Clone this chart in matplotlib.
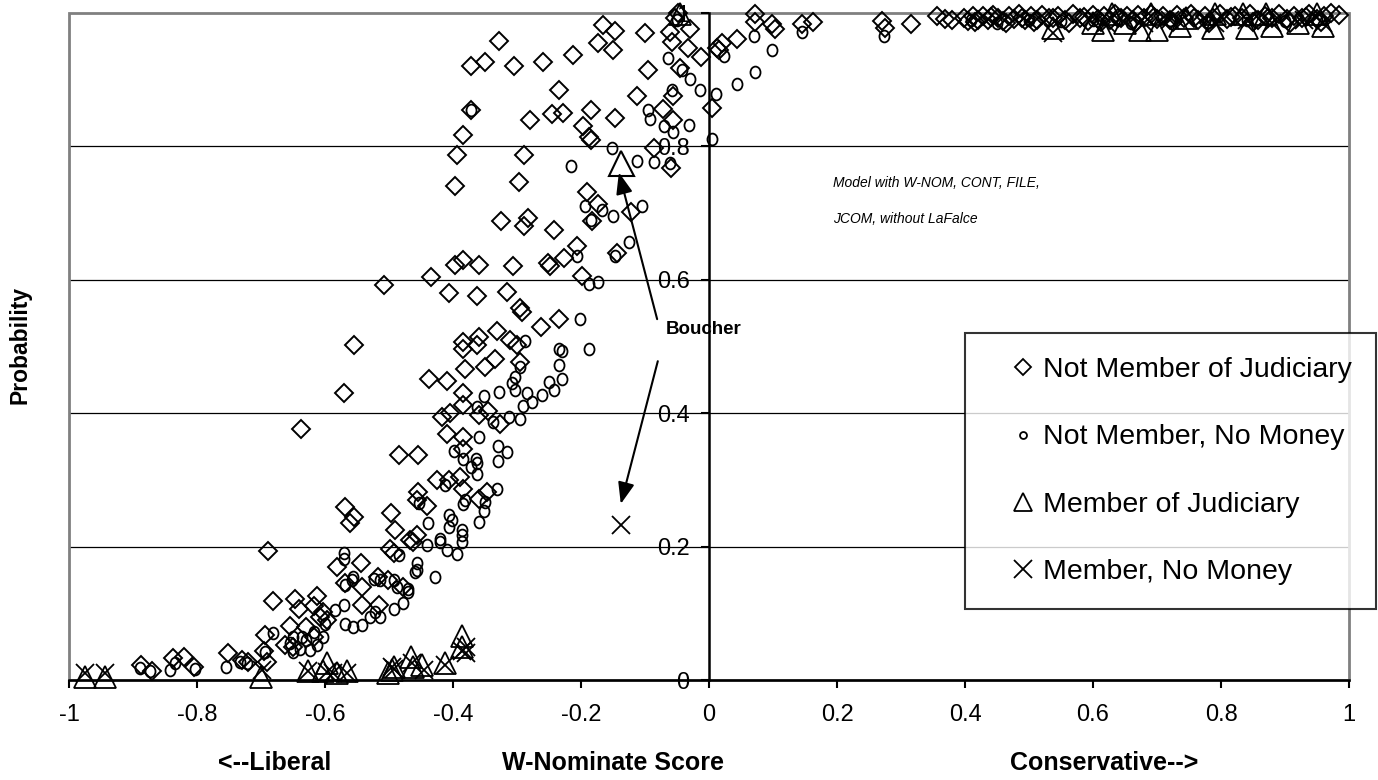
import matplotlib.pyplot as plt
from matplotlib.lines import Line2D
from matplotlib.patches import Rectangle
from matplotlib.markers import MarkerStyle
from matplotlib.transforms import Affine2D

plt.rcParams['font.family'] = ['Liberation Sans', 'DejaVu Sans']
plt.rcParams['axes.unicode_minus'] = False

# Not member of judiciary (diamonds)
nm_x = [-0.166, -0.147, -0.100, -0.053, -0.048, -0.030, -0.061, -0.058, -0.033, -0.013,
        0.012, -0.328, -0.372, -0.350, -0.304, -0.260, -0.213, -0.173, -0.150, -0.095,
        -0.045, -0.234, -0.113, -0.056, 0.005, -0.372, -0.279, -0.245, -0.228, -0.185,
        -0.147, -0.072, -0.057, -0.197, -0.187, -0.185, -0.385, -0.394, -0.289, -0.397,
        -0.297, -0.086, -0.060, -0.191, -0.173, -0.122, -0.325, -0.283, -0.289, -0.242,
        -0.183, -0.207, -0.227, -0.251, -0.248, -0.397, -0.385, -0.359, -0.307, -0.435,
        -0.199, -0.144, -0.508, -0.407, -0.363, -0.316,
        0.072, 0.072, 0.099, 0.043, 0.021, 0.015, 0.145, 0.163, 0.103, 0.270,
        0.275, 0.315, 0.368,
        -0.295, -0.292, -0.263, -0.235, -0.554, -0.570, -0.638, -0.332, -0.385, -0.360,
        -0.385, -0.311, -0.300, -0.363, -0.334, -0.381, -0.350, -0.295, -0.438, -0.410,
        -0.385, -0.384, -0.418, -0.405, -0.360, -0.345, -0.327, -0.410, -0.384, -0.485,
        -0.454, -0.384, -0.425, -0.407, -0.389, -0.384, -0.454, -0.457, -0.441, -0.360,
        -0.347, -0.569, -0.555, -0.561, -0.497, -0.491, -0.457, -0.462,
        -0.689, -0.582, -0.544, -0.569, -0.543, -0.498, -0.493, -0.517, -0.501, -0.478,
        -0.467, -0.682, -0.647, -0.641, -0.613, -0.618, -0.603, -0.608, -0.543, -0.515,
        -0.655, -0.694, -0.663, -0.695, -0.691, -0.751, -0.729, -0.720, -0.838, -0.821,
        -0.888, -0.871, -0.804, -0.650, -0.629, -0.618, -0.597,
        0.356, 0.380, 0.398, 0.405, 0.412, 0.420, 0.428, 0.436, 0.444, 0.452, 0.460,
        0.468, 0.477, 0.485, 0.494, 0.503, 0.512, 0.520, 0.531, 0.545, 0.556, 0.568,
        0.580, 0.592, 0.600, 0.608, 0.617, 0.626, 0.635, 0.644, 0.653, 0.662, 0.671,
        0.680, 0.690, 0.700, 0.710, 0.720, 0.731, 0.742, 0.753, 0.764, 0.775, 0.787,
        0.798, 0.810, 0.822, 0.833, 0.845, 0.857, 0.868, 0.880, 0.891, 0.903, 0.914,
        0.926, 0.938, 0.950, 0.961, 0.972,
        0.416, 0.440, 0.464, 0.489, 0.508, 0.538, 0.562, 0.586, 0.612, 0.639, 0.666,
        0.695, 0.725, 0.758, 0.781, 0.816, 0.850, 0.874, 0.908, 0.932, 0.956, 0.985]
nm_y = [0.982, 0.973, 0.970, 0.992, 1.000, 0.976, 0.972, 0.957, 0.948, 0.934,
        0.948, 0.958, 0.920, 0.926, 0.920, 0.926, 0.937, 0.955, 0.944, 0.914,
        0.917, 0.885, 0.875, 0.875, 0.857, 0.855, 0.839, 0.849, 0.850, 0.855,
        0.842, 0.856, 0.840, 0.831, 0.814, 0.809, 0.817, 0.787, 0.787, 0.740,
        0.746, 0.797, 0.767, 0.731, 0.714, 0.701, 0.688, 0.692, 0.681, 0.674,
        0.688, 0.651, 0.633, 0.625, 0.620, 0.622, 0.630, 0.622, 0.620, 0.604,
        0.605, 0.640, 0.592, 0.580, 0.575, 0.582,
        0.999, 0.987, 0.984, 0.961, 0.955, 0.945, 0.983, 0.986, 0.976, 0.988,
        0.978, 0.984, 0.991,
        0.557, 0.552, 0.530, 0.541, 0.502, 0.430, 0.376, 0.524, 0.507, 0.514,
        0.497, 0.510, 0.502, 0.502, 0.481, 0.467, 0.469, 0.477, 0.451, 0.448,
        0.431, 0.412, 0.395, 0.400, 0.397, 0.404, 0.384, 0.369, 0.365, 0.337,
        0.337, 0.347, 0.300, 0.300, 0.305, 0.287, 0.282, 0.270, 0.261, 0.272,
        0.282, 0.260, 0.245, 0.235, 0.251, 0.225, 0.217, 0.207,
        0.194, 0.170, 0.176, 0.146, 0.139, 0.197, 0.190, 0.155, 0.150, 0.140,
        0.210, 0.119, 0.122, 0.107, 0.126, 0.111, 0.102, 0.095, 0.112, 0.112,
        0.081, 0.067, 0.052, 0.044, 0.027, 0.040, 0.030, 0.027, 0.033, 0.035,
        0.023, 0.013, 0.019, 0.050, 0.080, 0.065, 0.090,
        0.995, 0.990, 0.993, 0.988, 0.996, 0.990, 0.995, 0.989, 0.997, 0.992, 0.988,
        0.996, 0.991, 0.998, 0.990, 0.995, 0.989, 0.997, 0.992, 0.996, 0.990, 0.998,
        0.993, 0.988, 0.997, 0.991, 0.995, 0.989, 0.998, 0.992, 0.996, 0.990, 0.997,
        0.993, 0.999, 0.991, 0.996, 0.989, 0.997, 0.993, 0.998, 0.990, 0.996, 0.992,
        0.999, 0.991, 0.996, 0.993, 0.998, 0.990, 0.996, 0.992, 0.999, 0.991, 0.996,
        0.993, 0.998, 0.991, 0.996, 1.000,
        0.986, 0.994, 0.985, 0.993, 0.986, 0.992, 0.985, 0.994, 0.986, 0.993, 0.985,
        0.994, 0.986, 0.993, 0.985, 0.994, 0.986, 0.993, 0.985, 0.994, 0.987, 0.997]

# Not member, no money (small circles)
nmn_x = [-0.064, -0.043, -0.029, -0.014, 0.011, -0.058, -0.095, -0.093, -0.071, -0.057,
         -0.031, 0.004, -0.151, -0.216, -0.113, -0.086, -0.061, -0.194, -0.168, -0.150,
         -0.104, -0.185, -0.125, -0.147, -0.207, -0.187, -0.173, 0.070, 0.098, 0.072,
         0.043, 0.023, 0.146, 0.274, -0.050, -0.372,
         -0.288, -0.235, -0.229, -0.235, -0.230, -0.250, -0.243, -0.261, -0.277, -0.285,
         -0.290, -0.295, -0.295, -0.303, -0.308, -0.303, -0.328, -0.352, -0.363, -0.313,
         -0.337, -0.360, -0.329, -0.316, -0.329, -0.398, -0.384, -0.364, -0.363, -0.372,
         -0.363, -0.332, -0.381, -0.350, -0.352, -0.359, -0.384, -0.413, -0.407, -0.402,
         -0.407, -0.439, -0.453, -0.386, -0.420, -0.202, -0.187,
         -0.570, -0.571, -0.556, -0.569, -0.558, -0.524, -0.514, -0.493, -0.488, -0.470,
         -0.485, -0.457, -0.584, -0.570, -0.522, -0.530, -0.514, -0.493, -0.478, -0.569,
         -0.556, -0.543, -0.603, -0.600, -0.629, -0.655, -0.650, -0.639, -0.623, -0.613,
         -0.618, -0.636, -0.650, -0.682, -0.694, -0.754, -0.733, -0.722, -0.842, -0.834,
         -0.873, -0.889, -0.803, -0.457, -0.459, -0.428, -0.470, -0.420, -0.394, -0.410,
         -0.386, -0.386, -0.441,
         0.41, 0.45, 0.50, 0.55, 0.60, 0.66, 0.72, 0.78, 0.84, 0.90, 0.95]
nmn_y = [0.932, 0.915, 0.901, 0.885, 0.879, 0.884, 0.855, 0.841, 0.831, 0.821,
         0.832, 0.811, 0.797, 0.770, 0.778, 0.776, 0.775, 0.711, 0.704, 0.695,
         0.711, 0.690, 0.656, 0.635, 0.636, 0.594, 0.596, 0.965, 0.944, 0.912,
         0.894, 0.935, 0.972, 0.965, 0.990, 0.855,
         0.509, 0.497, 0.494, 0.472, 0.452, 0.447, 0.435, 0.427, 0.417, 0.430,
         0.411, 0.392, 0.469, 0.455, 0.446, 0.435, 0.432, 0.426, 0.410, 0.395,
         0.387, 0.365, 0.351, 0.342, 0.328, 0.344, 0.332, 0.331, 0.325, 0.320,
         0.309, 0.287, 0.270, 0.267, 0.254, 0.237, 0.264, 0.292, 0.247, 0.240,
         0.230, 0.235, 0.266, 0.225, 0.212, 0.541, 0.497,
         0.190, 0.182, 0.155, 0.142, 0.150, 0.152, 0.150, 0.150, 0.140, 0.137,
         0.187, 0.165, 0.105, 0.112, 0.102, 0.095, 0.094, 0.107, 0.115, 0.084,
         0.080, 0.082, 0.065, 0.084, 0.060, 0.055, 0.042, 0.047, 0.045, 0.052,
         0.072, 0.065, 0.065, 0.070, 0.042, 0.020, 0.027, 0.026, 0.015, 0.025,
         0.014, 0.018, 0.016, 0.175, 0.162, 0.154, 0.132, 0.207, 0.189, 0.195,
         0.207, 0.217, 0.202,
         0.990, 0.985, 0.990, 0.988, 0.990, 0.985, 0.990, 0.987, 0.990, 0.988, 0.990]

# Member of judiciary (triangles)
mem_x = [-0.975, -0.944, -0.700, -0.626, -0.597, -0.603, -0.566, -0.582, -0.496, -0.501,
         -0.493, -0.465, -0.462, -0.449, -0.413, -0.386, -0.386, -0.045,
         0.538, 0.600, 0.616, 0.630, 0.650, 0.673, 0.690, 0.700, 0.736, 0.745,
         0.788, 0.790, 0.835, 0.840, 0.870, 0.880, 0.920, 0.950, 0.960]
mem_y = [0.005, 0.005, 0.005, 0.013, 0.025, 0.013, 0.013, 0.010, 0.015, 0.011,
         0.020, 0.035, 0.020, 0.023, 0.025, 0.066, 0.050, 0.998,
         0.978, 0.985, 0.975, 0.998, 0.985, 0.975, 0.998, 0.975, 0.980, 0.992,
         0.978, 0.998, 0.998, 0.978, 0.998, 0.980, 0.985, 0.998, 0.980]

# Member, no money (crosses)
memn_x = [-0.975, -0.944, -0.699, -0.626, -0.597, -0.587, -0.566, -0.496, -0.493, -0.464,
          -0.446, -0.413, -0.379, -0.380, -0.386,
          0.538, 0.620, 0.680, 0.720, 0.790, 0.840, 0.880, 0.930, 0.960]
memn_y = [0.010, 0.010, 0.015, 0.013, 0.012, 0.010, 0.010, 0.020, 0.016, 0.025,
          0.015, 0.022, 0.040, 0.050, 0.043,
          0.970, 0.985, 0.985, 0.990, 0.985, 0.990, 0.985, 0.990, 0.985]

# Boucher
boucher_member = (-0.138, 0.775)
boucher_nomoney = (-0.138, 0.232)

fig = plt.figure(figsize=(13.78, 7.8), dpi=100)
ax = fig.add_axes([0.0501, 0.1282, 0.9289, 0.8551])

ax.set_xlim(-1, 1)
ax.set_ylim(0, 1)

ellipse = MarkerStyle('o', transform=Affine2D().scale(0.85, 1.0))

kw = dict(linestyle='none', mfc='none', mec='black', clip_on=False)
ax.plot(nm_x, nm_y, marker='D', ms=9.5, mew=1.4, **kw)
ax.plot(nmn_x, nmn_y, marker=ellipse, ms=8.5, mew=1.3, **kw)
ax.plot(mem_x, mem_y, marker='^', ms=16, mew=1.3, **kw)
ax.plot(memn_x, memn_y, marker='x', ms=13, mew=1.3, **kw)
ax.plot(*boucher_member, marker='^', ms=18, mew=1.5, **kw)
ax.plot(*boucher_nomoney, marker='x', ms=13, mew=1.3, **kw)

# grid lines and frame
for gy in [0.2, 0.4, 0.6, 0.8]:
    ax.axhline(gy, color='black', lw=0.9, zorder=0)
ax.add_patch(Rectangle((0, 0), 1, 1, transform=ax.transAxes, fill=False,
                       edgecolor='#808080', lw=2, zorder=0, clip_on=False))

for s in ['top', 'right']:
    ax.spines[s].set_visible(False)
ax.spines['left'].set_position(('data', 0))
ax.spines['left'].set_linewidth(1.8)
ax.spines['bottom'].set_linewidth(1.8)

xt = [-1, -0.8, -0.6, -0.4, -0.2, 0, 0.2, 0.4, 0.6, 0.8, 1]
yt = [0, 0.2, 0.4, 0.6, 0.8, 1]
ax.set_xticks(xt)
ax.set_xticklabels(['-1', '-0.8', '-0.6', '-0.4', '-0.2', '0', '0.2', '0.4', '0.6', '0.8', '1'])
ax.set_yticks(yt)
ax.set_yticklabels(['0', '0.2', '0.4', '0.6', '0.8', '1'])
ax.tick_params(axis='x', direction='out', length=6, width=1.5, labelsize=17, pad=11)
ax.tick_params(axis='y', direction='out', length=6, width=1.5, labelsize=17, pad=8)

# annotations
ax.annotate('', xy=(-0.142, 0.765), xytext=(-0.080, 0.537),
            arrowprops=dict(arrowstyle='-|>,head_length=1.3,head_width=0.5', color='black', lw=1.5))
ax.annotate('', xy=(-0.139, 0.26), xytext=(-0.079, 0.482),
            arrowprops=dict(arrowstyle='-|>,head_length=1.3,head_width=0.5', color='black', lw=1.5))
ax.text(-0.067, 0.525, 'Boucher', fontsize=13.5, fontweight='bold', va='center', ha='left')
ax.text(0.194, 0.745, 'Model with W-NOM, CONT, FILE,', fontsize=10, style='italic', va='center')
ax.text(0.194, 0.691, 'JCOM, without LaFalce', fontsize=10, style='italic', va='center')

# axis captions
fig.text(275 / 1378, 1 - 763 / 780, '<--Liberal', fontsize=18, fontweight='bold', ha='center', va='center')
fig.text(613 / 1378, 1 - 763 / 780, 'W-Nominate Score', fontsize=18, fontweight='bold', ha='center', va='center')
fig.text(1104 / 1378, 1 - 763 / 780, 'Conservative-->', fontsize=18, fontweight='bold', ha='center', va='center')
fig.text(20 / 1378, 1 - 345 / 780, 'Probability', fontsize=16.5, fontweight='bold', rotation=90,
         ha='center', va='center')

handles = [
    Line2D([], [], linestyle='none', marker='D', ms=8, mfc='none', mec='black', mew=1.3),
    Line2D([], [], linestyle='none', marker='o', ms=5, mfc='none', mec='black', mew=1.3),
    Line2D([], [], linestyle='none', marker='^', ms=13.5, mfc='none', mec='black', mew=1.3),
    Line2D([], [], linestyle='none', marker='x', ms=13, mfc='none', mec='black', mew=1.3),
]
labels = ['Not Member of Judiciary', 'Not Member, No Money', 'Member of Judiciary', 'Member, No Money']
leg = fig.legend(handles, labels, loc='upper left', bbox_to_anchor=(965 / 1378, 1 - 333 / 780),
                 bbox_transform=fig.transFigure, fontsize=20.5, frameon=True, fancybox=False,
                 edgecolor='black', borderaxespad=0, handlelength=2.4, handletextpad=-0.5,
                 labelspacing=1.45, borderpad=0.85)
leg.get_frame().set_linewidth(1.5)

fig.savefig('out.png', dpi=100)
